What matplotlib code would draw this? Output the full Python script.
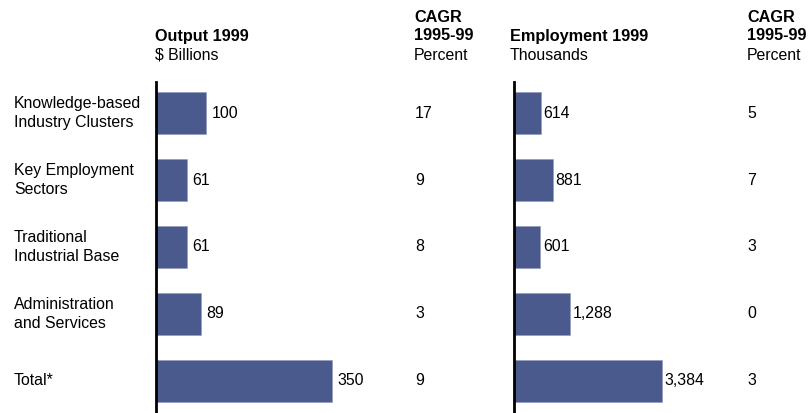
import matplotlib.pyplot as plt
import matplotlib.transforms as mtransforms

categories = ["Knowledge-based\nIndustry Clusters", "Key Employment\nSectors",
              "Traditional\nIndustrial Base", "Administration\nand Services", "Total*"]
output_1999 = [100, 61, 61, 89, 350]
output_labels = ["100", "61", "61", "89", "350"]
output_cagr = ["17", "9", "8", "3", "9"]
employment_1999 = [614, 881, 601, 1288, 3384]
employment_labels = ["614", "881", "601", "1,288", "3,384"]
employment_cagr = ["5", "7", "3", "0", "3"]

W, H = 811, 413
BAR = "#4A5A8C"
FS = 11.4
plt.rcParams["font.family"] = ["Liberation Sans", "DejaVu Sans"]

fig = plt.figure(figsize=(W / 100, H / 100), dpi=100)


def px(x, y):
    return x / W, 1 - y / H


def make_axes(left_px, width_px):
    ax = fig.add_axes([left_px / W, 0, width_px / W, (H - 82) / H])
    ax.set_ylim(4.478, -0.463)
    for s in ["top", "right", "bottom"]:
        ax.spines[s].set_visible(False)
    ax.spines["left"].set_linewidth(2.0)
    ax.set_xticks([])
    ax.set_yticks([])
    ax.patch.set_alpha(0)
    return ax


ypos = list(range(len(categories)))

# Output panel: 176 px for 350
ax1 = make_axes(156, 230)
ax1.set_xlim(0, 230 * 350 / 176)
ax1.barh(ypos, output_1999, height=0.64, color=BAR, edgecolor="#8E98BC", linewidth=0.4)
for y, v, lab in zip(ypos, output_1999, output_labels):
    ax1.annotate(lab, (v, y), xytext=(4, 0), textcoords="offset points",
                 va="center", ha="left", fontsize=FS)

# Employment panel: 148 px for 3384
ax2 = make_axes(514, 220)
ax2.set_xlim(0, 220 * 3384 / 148)
ax2.barh(ypos, employment_1999, height=0.64, color=BAR, edgecolor="#8E98BC", linewidth=0.4)
for y, v, lab in zip(ypos, employment_1999, employment_labels):
    ax2.annotate(lab, (v, y), xytext=(2, 0), textcoords="offset points",
                 va="center", ha="left", fontsize=FS)

trans = mtransforms.blended_transform_factory(fig.transFigure, ax1.transData)
for y, cat, c1, c2 in zip(ypos, categories, output_cagr, employment_cagr):
    fig.text(14 / W, y, cat, transform=trans, va="center", ha="left",
             fontsize=FS, linespacing=1.38)
    fig.text(415 / W, y, c1, transform=trans, va="center", ha="left", fontsize=FS)
    fig.text(747 / W, y, c2, transform=trans, va="center", ha="left", fontsize=FS)

# column headers
fig.text(*px(155, 36), "Output 1999", fontweight="bold", va="center", fontsize=FS + 0.3)
fig.text(*px(155, 55), "$ Billions", va="center", fontsize=FS)
fig.text(*px(510, 36), "Employment 1999", fontweight="bold", va="center", fontsize=FS + 0.3)
fig.text(*px(510, 55), "Thousands", va="center", fontsize=FS)
for x in (414, 747):
    fig.text(*px(x, 17), "CAGR", fontweight="bold", va="center", fontsize=FS + 0.3)
    fig.text(*px(x, 36), "1995-99", fontweight="bold", va="center", fontsize=FS + 0.3)
    fig.text(*px(x, 55), "Percent", va="center", fontsize=FS)

fig.savefig("out.png", dpi=100)
